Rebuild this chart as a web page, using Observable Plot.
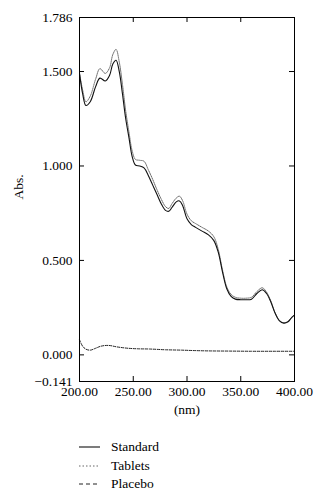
<!DOCTYPE html>
<html>
<head>
<meta charset="utf-8">
<script src="https://cdn.jsdelivr.net/npm/d3@7"></script>
<script src="https://cdn.jsdelivr.net/npm/@observablehq/plot@0.6"></script>
<style>
  body { margin: 0; background: #fff; font-family: "Liberation Serif", serif; }
  #legend { margin-top: 13px; font-size: 13.5px; color: #000; font-family: "Liberation Serif", serif; }
  .row { display: flex; align-items: center; height: 18.5px; }
  .row svg { margin-left: 79px; margin-right: 11px; }
</style>
</head>
<body>
<div id="chart"></div>
<div id="legend"></div>
<script>
const seriesNames = ["Standard", "Tablets", "Placebo"];

const standardNm = [200,203,206,210,215,219,224,228,231,234,237,240,243,246,249,252,256,260,264,268,272,276,280,283,286,290,293,296,300,304,308,314,320,325,329,333,337,341,345,350,355,360,365,370,374,378,382,386,390,394,397,400];
const standardAbs = [1.49,1.38,1.32,1.34,1.42,1.465,1.45,1.48,1.54,1.56,1.50,1.38,1.25,1.15,1.05,1.005,1.000,0.99,0.95,0.90,0.85,0.80,0.765,0.76,0.78,0.81,0.815,0.79,0.72,0.69,0.675,0.655,0.635,0.605,0.545,0.44,0.35,0.31,0.295,0.292,0.292,0.295,0.325,0.345,0.325,0.28,0.22,0.18,0.168,0.175,0.195,0.21];

const tabletsNm = [200,203,206,210,215,219,224,228,231,234,237,240,243,246,249,252,256,260,264,268,272,276,280,283,286,290,293,296,300,304,308,314,320,325,329,333,337,341,345,350,355,360,365,370,374,378,382,386,390,394,397,400];
const tabletsAbs = [1.49,1.40,1.34,1.37,1.46,1.515,1.49,1.52,1.59,1.617,1.55,1.43,1.29,1.18,1.08,1.035,1.03,1.025,0.98,0.93,0.875,0.825,0.785,0.775,0.80,0.83,0.84,0.815,0.745,0.71,0.695,0.675,0.655,0.625,0.56,0.45,0.36,0.32,0.305,0.30,0.30,0.305,0.335,0.355,0.332,0.285,0.222,0.182,0.17,0.177,0.197,0.212];

const placeboNm = [200,203,206,210,215,220,227,235,245,255,265,280,295,305,320,340,360,380,400];
const placeboAbs = [0.08,0.045,0.03,0.025,0.035,0.046,0.05,0.042,0.035,0.032,0.031,0.027,0.025,0.023,0.021,0.02,0.019,0.019,0.019];

const xTicks = [200, 250, 300, 350, 400];
const xInnerTicks = [250, 300, 350];
const yTicks = [-0.141, 0, 0.5, 1, 1.5, 1.786];
const yInnerTicks = [0, 0.5, 1, 1.5];

const toRows = (name, xs, ys) => xs.map((x, i) => ({series: name, nm: x, abs: ys[i]}));
const standard = toRows("Standard", standardNm, standardAbs);
const tablets = toRows("Tablets", tabletsNm, tabletsAbs);
const placebo = toRows("Placebo", placeboNm, placeboAbs);

const W = 324, H = 425;
const mL = 79, mR = 30, mT = 17, mB = 44;
const innerW = W - mL - mR, innerH = H - mT - mB;
const tick = 5;
const fs = 13.5;
const font = "'Liberation Serif', serif";

const styles = {
  Standard: {stroke: "#111", strokeWidth: 1.1, strokeDasharray: null},
  Tablets: {stroke: "#666", strokeWidth: 1, strokeDasharray: "1,1"},
  Placebo: {stroke: "#222", strokeWidth: 1, strokeDasharray: "2.5,1.5"}
};

const chart = Plot.plot({
  width: W, height: H,
  marginLeft: mL, marginRight: mR, marginTop: mT, marginBottom: mB,
  style: {fontFamily: font, fontSize: "13.5px", color: "#000", background: "#fff"},
  x: {domain: [200, 400]},
  y: {domain: [-0.141, 1.786]},
  marks: [
    Plot.axisX(xTicks, {tickSize: 0, tickPadding: 5, label: null, fontSize: fs, fontFamily: font, tickFormat: d3.format(".2f")}),
    Plot.axisY(yTicks, {tickSize: 0, tickPadding: 7, label: null, fontSize: fs, fontFamily: font, tickFormat: d3.format(".3f")}),
    Plot.tickX(xInnerTicks, {insetTop: innerH - tick, stroke: "#000"}),
    Plot.tickX(xInnerTicks, {insetBottom: innerH - tick, stroke: "#000"}),
    Plot.tickY(yInnerTicks, {insetRight: innerW - tick, stroke: "#000"}),
    Plot.tickY(yInnerTicks, {insetLeft: innerW - tick, stroke: "#000"}),
    Plot.line(placebo, {x: "nm", y: "abs", curve: "catmull-rom", ...styles.Placebo}),
    Plot.line(tablets, {x: "nm", y: "abs", curve: "catmull-rom", ...styles.Tablets}),
    Plot.line(standard, {x: "nm", y: "abs", curve: "catmull-rom", ...styles.Standard}),
    Plot.frame({stroke: "#000", strokeWidth: 1}),
    Plot.text(["Abs."], {text: d => d, frameAnchor: "left", dx: -61, rotate: -90, fontSize: fs, fontFamily: font}),
    Plot.text(["(nm)"], {text: d => d, frameAnchor: "bottom", dy: 32, fontSize: fs, fontFamily: font})
  ]
});
document.getElementById("chart").appendChild(chart);

const legend = document.getElementById("legend");
for (const name of seriesNames) {
  const s = styles[name];
  const row = document.createElement("div");
  row.className = "row";
  row.innerHTML = `<svg width="21" height="4"><line x1="0" x2="21" y1="2" y2="2" stroke="${s.stroke}" stroke-width="${s.strokeWidth}" ${s.strokeDasharray ? `stroke-dasharray="${name === "Placebo" ? "4,3" : "1.5,2"}"` : ""}/></svg><span>${name}</span>`;
  legend.appendChild(row);
}
</script>
</body>
</html>
